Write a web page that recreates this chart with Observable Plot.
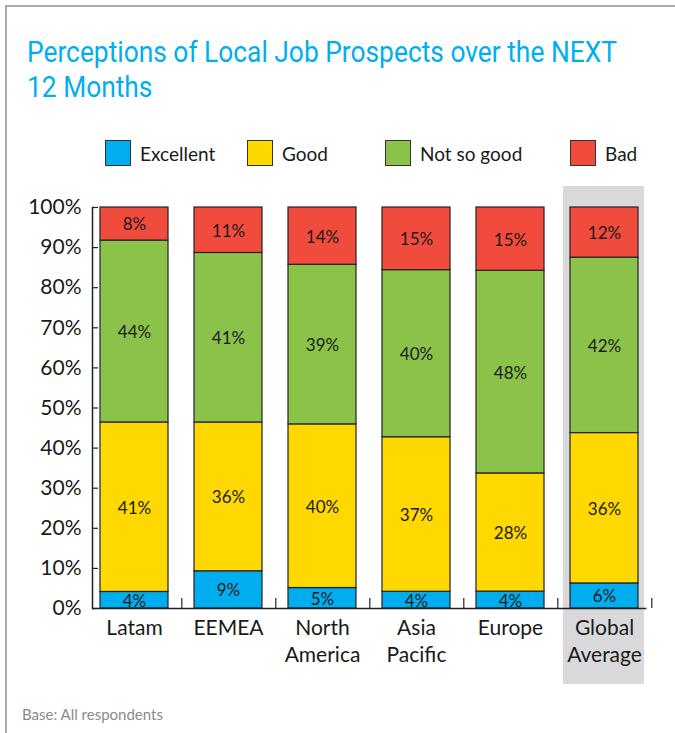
<!DOCTYPE html>
<html>
<head>
<meta charset="utf-8">
<script src="https://cdn.jsdelivr.net/npm/d3@7"></script>
<script src="https://cdn.jsdelivr.net/npm/@observablehq/plot@0.6"></script>
<style>
  html, body { margin: 0; padding: 0; background: #fff; }
  body { width: 675px; height: 733px; position: relative; overflow: hidden; font-family: Lato, "Open Sans", sans-serif; }
  #border { position: absolute; left: 5px; top: 5px; right: 0; bottom: 0; border-top: 2px solid #a9a9a9; border-left: 2px solid #a9a9a9; }
  #title { position: absolute; left: 27px; top: 34px; font-family: Roboto, sans-serif; font-size: 30px; line-height: 35px; color: #00aeef; white-space: nowrap; transform: scaleX(0.878); transform-origin: left top; }
  #legend { position: absolute; left: 105px; top: 140px; display: flex; font-size: 19px; color: #1a1a1a; }
  .item { display: flex; align-items: center; height: 26px; }
  .sw { width: 24px; height: 24px; border: 1px solid #333; margin-right: 9px; box-sizing: content-box; }
  #chart { position: absolute; left: 0; top: 180px; }
  #caption { position: absolute; left: 22px; top: 705px; font-size: 15px; color: #8a8a8a; }
</style>
</head>
<body>
<div id="border"></div>
<div id="title">Perceptions of Local Job Prospects over the NEXT<br>12 Months</div>
<div id="legend"></div>
<div id="chart"></div>
<div id="caption">Base: All respondents</div>
<script>
// ---- data ----
const regions = ["Latam", "EEMEA", "North\nAmerica", "Asia\nPacific", "Europe", "Global\nAverage"];
const categories = ["Excellent", "Good", "Not so good", "Bad"];
const excellent = [4, 9, 5, 4, 4, 6];
const good = [41, 36, 40, 37, 28, 36];
const notSoGood = [44, 41, 39, 40, 48, 42];
const bad = [8, 11, 14, 15, 15, 12];
const colors = ["#00aeef", "#ffd800", "#8bc34a", "#f04b3c"];
const yTicks = [0, 0.1, 0.2, 0.3, 0.4, 0.5, 0.6, 0.7, 0.8, 0.9, 1];
const highlighted = ["Global\nAverage"];

const series = [excellent, good, notSoGood, bad];
const rows = [];
regions.forEach((r, i) => {
  categories.forEach((c, j) => rows.push({region: r, cat: c, value: series[j][i]}));
});

// ---- legend ----
const legendWidths = [142, 138, 185, null];
const legend = document.getElementById("legend");
categories.forEach((c, j) => {
  const it = document.createElement("div");
  it.className = "item";
  if (legendWidths[j]) it.style.width = legendWidths[j] + "px";
  it.innerHTML = `<span class="sw" style="background:${colors[j]}"></span><span>${c}</span>`;
  legend.appendChild(it);
});

// ---- chart ----
const W = 675, H = 510, mT = 27, mB = 82, mL = 92, mR = 28.6;
const plotW = W - mL - mR, plotH = H - mT - mB;

const chart = Plot.plot({
  width: W, height: H,
  marginTop: mT, marginBottom: mB, marginLeft: mL, marginRight: mR,
  style: {fontFamily: "Lato, 'Open Sans', sans-serif", color: "#1a1a1a", background: "transparent"},
  x: {domain: regions, paddingInner: 0.28, paddingOuter: 0.07, label: null},
  y: {domain: [0, 1], label: null},
  color: {domain: categories, range: colors},
  marks: [
    Plot.barY(highlighted, {x: d => d, y1: 0, y2: 1, fill: "#d9d9db",
      insetTop: -21, insetBottom: -76, insetLeft: -7, insetRight: -6}),
    Plot.barY(rows, Plot.stackY({x: "region", y: "value", fill: "cat", offset: "normalize",
      stroke: "#222", strokeWidth: 1.2})),
    Plot.text(rows, Plot.stackY({x: "region", y: "value", z: "cat", offset: "normalize",
      text: d => d.value + "%", fontSize: 17, dy: 1, fill: "#1a1a1a"})),
    Plot.ruleY(yTicks, {y: d => d, insetRight: plotW - 6, stroke: "#222", strokeWidth: 1.2}),
    Plot.ruleX(regions, {x: d => d, dx: 47.3, insetTop: plotH - 10, stroke: "#222", strokeWidth: 1.2}),
    Plot.ruleY([0], {stroke: "#222", strokeWidth: 1.5}),
    Plot.frame({anchor: "left", stroke: "#222", strokeWidth: 1.5}),
    Plot.axisY({ticks: yTicks, tickSize: 0, tickPadding: 11, fontSize: 21,
      tickFormat: d => Math.round(d * 100) + "%", label: null}),
    Plot.axisX({tickSize: 0, tickPadding: 7, fontSize: 21, lineHeight: 1.3, label: null})
  ]
});
document.getElementById("chart").appendChild(chart);
</script>
</body>
</html>
